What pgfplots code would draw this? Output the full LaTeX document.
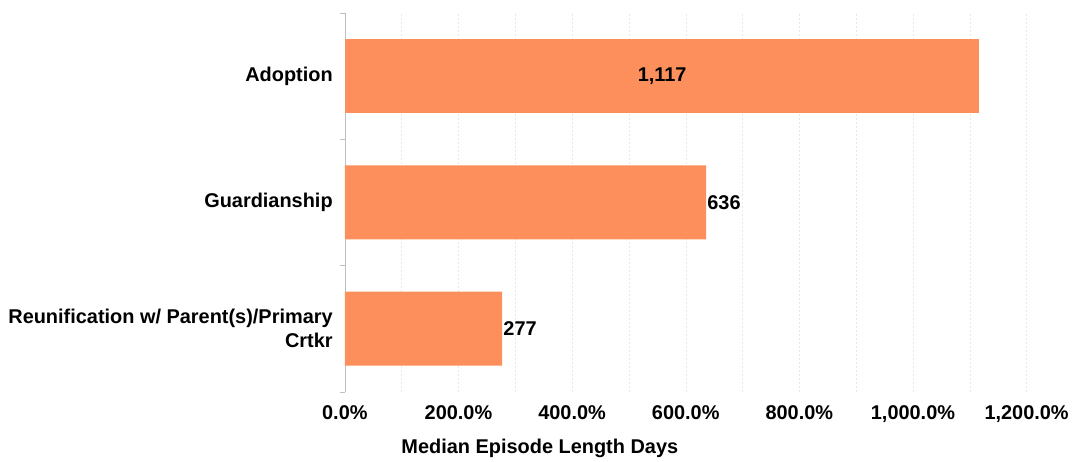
\documentclass[border=0pt]{standalone}
\usepackage{pgfplots}
\pgfplotsset{compat=1.18}
\usepackage{fontspec}
\setmainfont{Liberation Sans}
\definecolor{barorange}{RGB}{252,143,91}
\definecolor{axgray}{RGB}{191,191,191}
\definecolor{gridgray}{RGB}{232,232,232}

\begin{document}
\begin{tikzpicture}[font=\fontsize{20}{24}\selectfont\bfseries]
\begin{axis}[
    name=ax,
    scale only axis,
    width=682bp, height=379bp,
    xbar, bar width=74bp, bar shift=0pt,
    xmin=0, xmax=1200,
    ymin=-0.5, ymax=2.5,
    axis x line*=bottom, axis y line*=left,
    axis line style={-},
    x axis line style={draw=none},
    y axis line style={axgray},
    xtick={0,100,...,1200},
    xticklabels={0.0\%,,200.0\%,,400.0\%,,600.0\%,,800.0\%,,{1,000.0\%},,{1,200.0\%}},
    ytick={0,1,2},
    yticklabels={{Reunification w/ Parent(s)/Primary\\Crtkr},Guardianship,Adoption},
    minor ytick={-0.5,0.5,1.5,2.5},
    major tick length=0pt,
    minor tick length=5bp,
    tick align=outside,
    minor y tick style={axgray},
    xmajorgrids,
    grid style={dash pattern=on 2bp off 2bp, gridgray},
    xticklabel style={anchor=base, yshift=-28bp},
    yticklabel style={align=right, anchor=east, inner sep=0pt, xshift=-12bp},
    xlabel={Median Episode Length Days},
    xlabel style={at={(axis description cs:0.286,0)}, anchor=base, yshift=-62bp},
    point meta=x,
    nodes near coords={\pgfmathprintnumber[1000 sep={,}, assume math mode=true]{\pgfplotspointmeta}},
    every node near coord/.append style={inner sep=1bp, black},
]
% Reunification and Guardianship: labels at the bar end
\addplot[fill=barorange, draw=none] coordinates {
    (277,0)
    (636,1)
};
% Adoption: label centred inside the bar
\addplot[fill=barorange, draw=none,
    every node near coord/.append style={anchor=center, xshift=-317.4bp}] coordinates {
    (1117,2)
};
\end{axis}
\path (ax.south west) ++(-345bp,-65bp) rectangle ++(1072bp,457bp);
\end{tikzpicture}
\end{document}
